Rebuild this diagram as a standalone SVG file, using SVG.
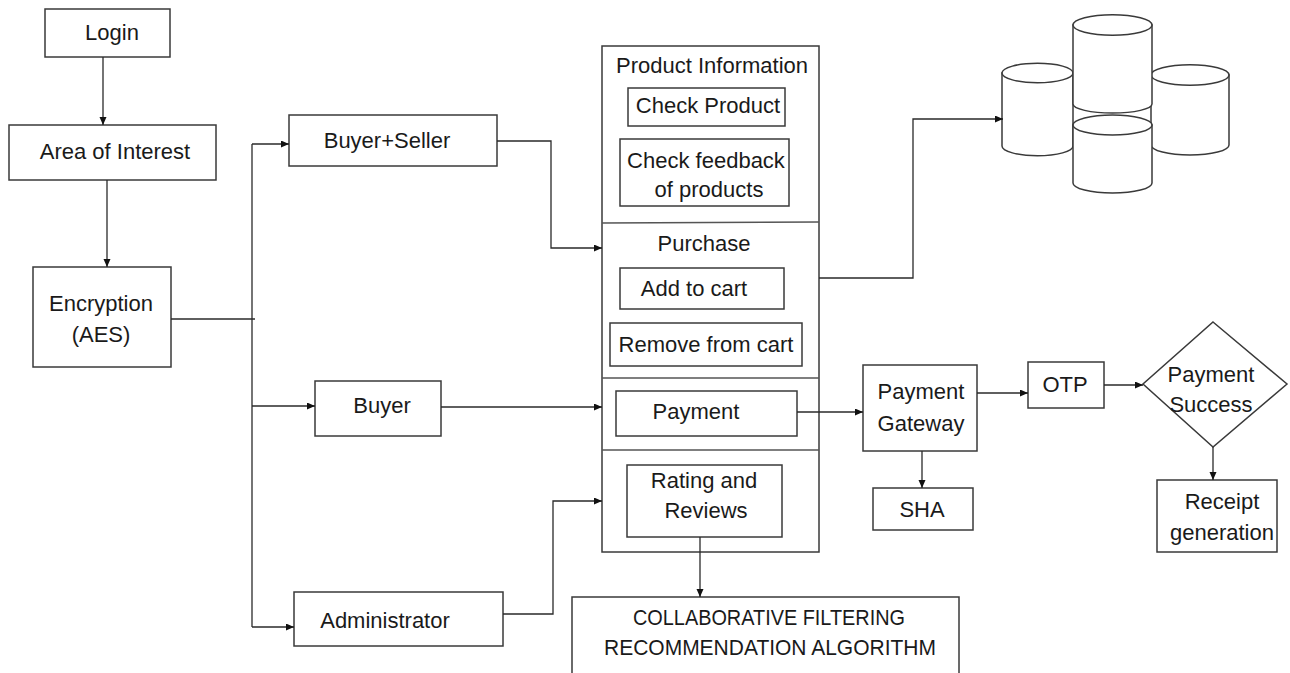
<svg xmlns="http://www.w3.org/2000/svg" width="1290" height="673" viewBox="0 0 1290 673">
<style>
.box{fill:#fff;stroke:#3a3a3a;stroke-width:1.5}
.div{fill:none;stroke:#555;stroke-width:1.5}
.cyl{fill:#fff;stroke:#3a3a3a;stroke-width:1.5}
.t{font-family:"Liberation Sans",Arial,sans-serif;font-size:22px;fill:#1a1a1a;text-anchor:middle}
.c{fill:none;stroke:#2a2a2a;stroke-width:1.3}
.a{marker-end:url(#ah)}
</style>
<defs>
<marker id="ah" markerWidth="9" markerHeight="8" refX="8" refY="3.5" orient="auto" markerUnits="userSpaceOnUse">
<path d="M0,0 L8,3.5 L0,7 z" fill="#111"/>
</marker>
</defs>
<rect width="1290" height="673" fill="#fff"/>

<g id="login"><rect class="box" x="45" y="9" width="125" height="48"/><text class="t" x="112" y="40">Login</text></g>
<g id="area"><rect class="box" x="9" y="125" width="207" height="55"/><text class="t" x="115" y="159">Area of Interest</text></g>
<g id="encryption"><rect class="box" x="33" y="267" width="138" height="100"/><text class="t" x="101" y="311">Encryption</text><text class="t" x="101" y="342">(AES)</text></g>
<g id="buyerseller"><rect class="box" x="289" y="115" width="208" height="51"/><text class="t" x="387" y="148">Buyer+Seller</text></g>
<g id="buyer"><rect class="box" x="315" y="381" width="126" height="55"/><text class="t" x="382" y="413">Buyer</text></g>
<g id="administrator"><rect class="box" x="294" y="592" width="209" height="54"/><text class="t" x="385" y="628">Administrator</text></g>

<g id="main">
<rect class="box" x="602" y="46" width="217" height="506"/>
<path class="div" d="M602,223 L819,222 M602,378 H819 M602,450 H819"/>
<text class="t" x="712" y="73">Product Information</text>
<rect class="box" x="628" y="88" width="157" height="38"/><text class="t" x="708" y="113">Check Product</text>
<rect class="box" x="620" y="139" width="169" height="67"/><text class="t" x="706" y="168">Check feedback</text><text class="t" x="709" y="197">of products</text>
<text class="t" x="704" y="251">Purchase</text>
<rect class="box" x="620" y="268" width="164" height="41"/><text class="t" x="694" y="296">Add to cart</text>
<rect class="box" x="610" y="323" width="192" height="43"/><text class="t" x="706" y="352">Remove from cart</text>
<rect class="box" x="616" y="391" width="181" height="45"/><text class="t" x="696" y="419">Payment</text>
<rect class="box" x="627" y="465" width="155" height="72"/><text class="t" x="704" y="488">Rating and</text><text class="t" x="706" y="518">Reviews</text>
</g>

<g id="collab"><rect class="box" x="572" y="597" width="387" height="90"/>
<text class="t" x="769" y="625" textLength="272" lengthAdjust="spacingAndGlyphs">COLLABORATIVE FILTERING</text>
<text class="t" x="770" y="655" textLength="332" lengthAdjust="spacingAndGlyphs">RECOMMENDATION ALGORITHM</text></g>

<g id="databases">
<path class="cyl" d="M1002,73 V146 A35.5,9.7 0 0 0 1073,146 V73 Z"/><ellipse class="cyl" cx="1037.5" cy="73" rx="35.5" ry="9.7"/>
<path class="cyl" d="M1151,75 V145 A39,10 0 0 0 1229,145 V75 Z"/><ellipse class="cyl" cx="1190" cy="75" rx="39" ry="10.3"/>
<path class="cyl" d="M1073,25 V104 A39.5,9 0 0 0 1152,104 V25 Z"/><ellipse class="cyl" cx="1112.5" cy="25" rx="39.5" ry="10.3"/>
<path class="cyl" d="M1073,125 V183 A39.5,10 0 0 0 1152,183 V125 Z"/><ellipse class="cyl" cx="1112.5" cy="125" rx="39.5" ry="10"/>
</g>

<g id="gateway"><rect class="box" x="863" y="365" width="114" height="86"/><text class="t" x="921" y="399">Payment</text><text class="t" x="921" y="431">Gateway</text></g>
<g id="sha"><rect class="box" x="873" y="488" width="100" height="42"/><text class="t" x="922" y="517">SHA</text></g>
<g id="otp"><rect class="box" x="1028" y="362" width="76" height="46"/><text class="t" x="1065" y="392">OTP</text></g>
<g id="success"><polygon class="box" points="1213,322 1287,384 1213,447 1143,384"/><text class="t" x="1211" y="382">Payment</text><text class="t" x="1211" y="412">Success</text></g>
<g id="receipt"><rect class="box" x="1157" y="480" width="120" height="72"/><text class="t" x="1222" y="509">Receipt</text><text class="t" x="1222" y="540">generation</text></g>

<g id="connectors">
<path class="c a" d="M103,57 V125"/>
<path class="c a" d="M107,180 V267"/>
<path class="c" d="M171,319 H255"/>
<path class="c" d="M252,144 V627"/>
<path class="c a" d="M252,144 H289"/>
<path class="c a" d="M252,406 H315"/>
<path class="c a" d="M252,627 H294"/>
<path class="c a" d="M497,141 H551 V248 H602"/>
<path class="c a" d="M441,407 H602"/>
<path class="c a" d="M503,614 H553 V501 H602"/>
<path class="c a" d="M819,278 H913 V119 H1003"/>
<path class="c a" d="M797,412 H863"/>
<path class="c a" d="M977,393 H1028"/>
<path class="c a" d="M1104,385 H1143"/>
<path class="c a" d="M1213,447 V480"/>
<path class="c a" d="M922,451 V488"/>
<path class="c a" d="M700,537 V597"/>
</g>
</svg>
